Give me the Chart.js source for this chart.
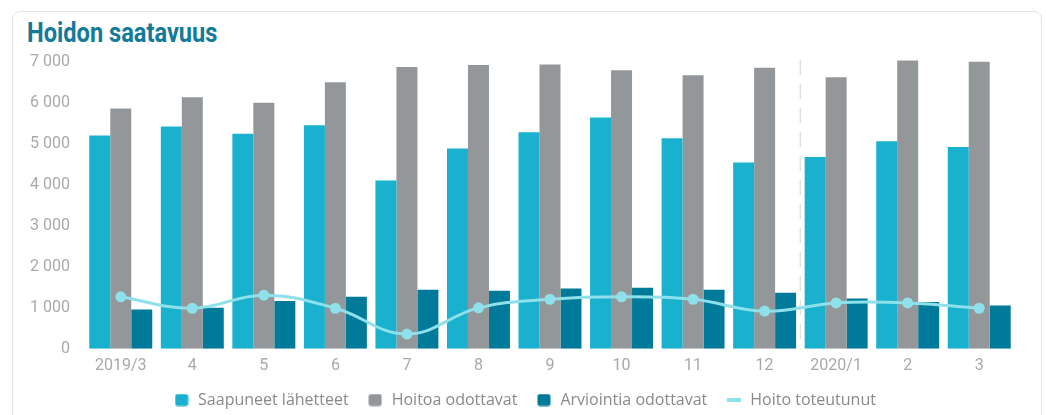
<!DOCTYPE html>
<html>
<head>
<meta charset="utf-8">
<script src="https://cdn.jsdelivr.net/npm/chart.js@4.4.1/dist/chart.umd.min.js"></script>
<style>
  html, body { margin: 0; padding: 0; background: #fff; }
  #wrap { position: relative; width: 1046px; height: 415px; overflow: hidden; }
  .kortti { position: absolute; left: 12px; top: 11px; width: 1030px; height: 440px;
            border: 1px solid #e4e4e4; border-radius: 8px; box-sizing: border-box; }
  .otsikko { position: absolute; left: 27px; top: 20px; font-family: Roboto, sans-serif;
             font-weight: bold; font-size: 27px; line-height: 27px; color: #137a98;
             transform: scaleX(0.875); transform-origin: left top; white-space: nowrap; }
  canvas { position: absolute; left: 0; top: 0; }
</style>
</head>
<body>
<div id="wrap">
  <div class="kortti"></div>
  <div class="otsikko">Hoidon saatavuus</div>
  <canvas id="kaavio" width="1046" height="415"></canvas>
</div>
<script>
// kuukaudet
var kuukaudet = ['2019/3', '4', '5', '6', '7', '8', '9', '10', '11', '12', '2020/1', '2', '3'];

// sarjat (luettu kuvasta)
var saapuneet = [5210, 5430, 5250, 5460, 4110, 4890, 5290, 5650, 5140, 4550, 4680, 5070, 4930];
var hoitoaOdottavat = [5870, 6140, 6010, 6510, 6880, 6930, 6940, 6800, 6680, 6860, 6630, 7040, 7010];
var arviointiaOdottavat = [960, 1000, 1170, 1270, 1440, 1420, 1470, 1490, 1440, 1370, 1230, 1140, 1060];
var hoitoToteutunut = [1270, 990, 1310, 990, 360, 1000, 1210, 1270, 1210, 920, 1120, 1120, 990];

var yTicks = [0, 1000, 2000, 3000, 4000, 5000, 6000, 7000];

var vari1 = '#19b1ce';
var vari2 = '#939799';
var vari3 = '#007a9a';
var vari4 = '#8ee0ea';

// pienet kuvat legendaan
function laatikko(vari) {
    var c = document.createElement('canvas');
    c.width = 14; c.height = 13;
    var x = c.getContext('2d');
    x.fillStyle = vari;
    x.beginPath();
    x.roundRect(0.5, 0.5, 13, 12, 2.5);
    x.fill();
    return c;
}
function viiva(vari) {
    var c = document.createElement('canvas');
    c.width = 14; c.height = 4;
    var x = c.getContext('2d');
    x.fillStyle = vari;
    x.fillRect(0, 0, 14, 4);
    return c;
}
var merkit = [laatikko(vari1), laatikko(vari2), laatikko(vari3), viiva(vari4)];

// katkoviiva vuoden vaihteeseen
const vuosiviiva = {
    id: 'vuosiviiva',
    beforeDatasetsDraw(chart) {
        const x = chart.scales.x;
        const a = chart.chartArea;
        const px = (x.getPixelForValue(9) + x.getPixelForValue(10)) / 2;
        const ctx = chart.ctx;
        ctx.save();
        ctx.strokeStyle = '#e2e2e2';
        ctx.lineWidth = 1.5;
        ctx.setLineDash([15, 9]);
        ctx.beginPath();
        ctx.moveTo(px, a.top + 2);
        ctx.lineTo(px, a.bottom);
        ctx.stroke();
        ctx.restore();
    }
};

// legenda matalammaksi, hieman oikealle ja ylös
const legendaSiirto = {
    id: 'legendaSiirto',
    beforeLayout(chart) {
        const lg = chart.legend;
        if (lg && !lg._lyhennetty) {
            const fit = lg.fit;
            lg.fit = function () { fit.call(this); this.height -= 5; };
            lg._lyhennetty = true;
        }
    },
    afterLayout(chart) {
        const lg = chart.legend;
        lg.left += 17; lg.right += 17;
        lg.top -= 10; lg.bottom -= 10;
    }
};

function tuhannet(v) {
    return String(v).replace(/\B(?=(\d{3})+(?!\d))/g, ' ');
}

const config = {
    type: 'bar',
    data: {
        labels: kuukaudet,
        datasets: [
            { label: 'Saapuneet lähetteet', data: saapuneet, backgroundColor: vari1, order: 1 },
            { label: 'Hoitoa odottavat', data: hoitoaOdottavat, backgroundColor: vari2, order: 1 },
            { label: 'Arviointia odottavat', data: arviointiaOdottavat, backgroundColor: vari3, order: 1 },
            {
                type: 'line', label: 'Hoito toteutunut', data: hoitoToteutunut,
                borderColor: vari4, backgroundColor: vari4, borderWidth: 3,
                pointRadius: 5.5, pointHoverRadius: 6, pointBorderWidth: 0,
                tension: 0.4, order: 0
            }
        ]
    },
    options: {
        responsive: false,
        animation: false,
        layout: { padding: { left: 0, right: 31, top: 58, bottom: -8 } },
        datasets: {
            bar: { barPercentage: 1, categoryPercentage: 0.88 }
        },
        scales: {
            x: {
                grid: { display: false, drawTicks: false },
                border: { display: false },
                ticks: { color: '#a9a9a9', font: { family: 'Roboto', size: 16 }, padding: 8, maxRotation: 0 }
            },
            y: {
                min: 0,
                max: 7100,
                afterFit: function (s) { s.width = 85; },
                afterBuildTicks: function (s) { s.ticks = yTicks.map(function (v) { return { value: v }; }); },
                grid: { display: false, drawTicks: false },
                border: { display: false },
                ticks: {
                    color: '#a9a9a9', font: { family: 'Roboto', size: 16 }, padding: 15,
                    callback: function (v) { return tuhannet(v); }
                }
            }
        },
        plugins: {
            tooltip: { enabled: false },
            legend: {
                position: 'bottom',
                labels: {
                    usePointStyle: true,
                    pointStyleWidth: 17,
                    boxWidth: 17,
                    boxHeight: 13,
                    padding: 18,
                    color: '#8a8a8a',
                    font: { family: 'Open Sans', size: 16 },
                    sort: function (a, b) { return a.datasetIndex - b.datasetIndex; },
                    generateLabels: function (chart) {
                        var items = Chart.defaults.plugins.legend.labels.generateLabels(chart);
                        items.forEach(function (it) { it.pointStyle = merkit[it.datasetIndex]; });
                        return items;
                    }
                }
            }
        }
    },
    plugins: [vuosiviiva, legendaSiirto]
};

const kaavio = new Chart(document.getElementById('kaavio'), config);
</script>
</body>
</html>
